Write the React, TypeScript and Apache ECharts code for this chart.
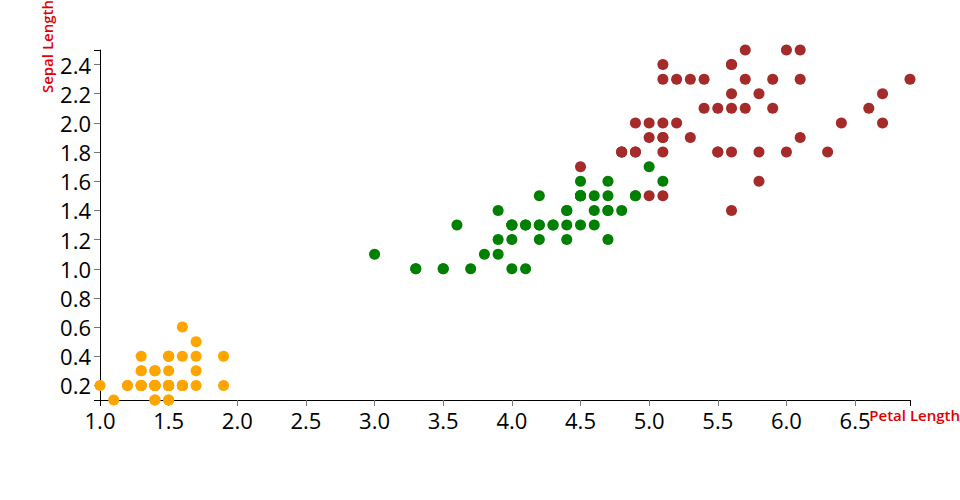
import React, { useEffect, useRef } from "react";
import * as echarts from "echarts";

const setosaLength = [1.4,1.4,1.3,1.5,1.4,1.7,1.4,1.5,1.4,1.5,1.5,1.6,1.4,1.1,1.2,1.5,1.3,1.4,1.7,1.5,1.7,1.5,1.0,1.7,1.9,1.6,1.6,1.5,1.4,1.6,1.6,1.5,1.5,1.4,1.5,1.2,1.3,1.4,1.3,1.5,1.3,1.3,1.3,1.6,1.9,1.4,1.6,1.4,1.5,1.4];
const setosaWidth = [0.2,0.2,0.2,0.2,0.2,0.4,0.3,0.2,0.2,0.1,0.2,0.2,0.1,0.1,0.2,0.4,0.4,0.3,0.3,0.3,0.2,0.4,0.2,0.5,0.2,0.2,0.4,0.2,0.2,0.2,0.2,0.4,0.1,0.2,0.2,0.2,0.2,0.1,0.2,0.2,0.3,0.3,0.2,0.6,0.4,0.3,0.2,0.2,0.2,0.2];
const versicolorLength = [4.7,4.5,4.9,4.0,4.6,4.5,4.7,3.3,4.6,3.9,3.5,4.2,4.0,4.7,3.6,4.4,4.5,4.1,4.5,3.9,4.8,4.0,4.9,4.7,4.3,4.4,4.8,5.0,4.5,3.5,3.8,3.7,3.9,5.1,4.5,4.5,4.7,4.4,4.1,4.0,4.4,4.6,4.0,3.3,4.2,4.2,4.2,4.3,3.0,4.1];
const versicolorWidth = [1.4,1.5,1.5,1.3,1.5,1.3,1.6,1.0,1.3,1.4,1.0,1.5,1.0,1.4,1.3,1.4,1.5,1.0,1.5,1.1,1.8,1.3,1.5,1.2,1.3,1.4,1.4,1.7,1.5,1.0,1.1,1.0,1.2,1.6,1.5,1.6,1.5,1.3,1.3,1.3,1.2,1.4,1.2,1.0,1.3,1.2,1.3,1.3,1.1,1.3];
const virginicaLength = [6.0,5.1,5.9,5.6,5.8,6.6,4.5,6.3,5.8,6.1,5.1,5.3,5.5,5.0,5.1,5.3,5.5,6.7,6.9,5.0,5.7,4.9,6.7,4.9,5.7,6.0,4.8,4.9,5.6,5.8,6.1,6.4,5.6,5.1,5.6,6.1,5.6,5.5,4.8,5.4,5.6,5.1,5.1,5.9,5.7,5.2,5.0,5.2,5.4,5.1];
const virginicaWidth = [2.5,1.9,2.1,1.8,2.2,2.1,1.7,1.8,1.8,2.5,2.0,1.9,2.1,2.0,2.4,2.3,1.8,2.2,2.3,1.5,2.3,2.0,2.0,1.8,2.1,1.8,1.8,1.8,2.1,1.6,1.9,2.0,2.2,1.5,1.4,2.3,2.4,1.8,1.8,2.1,2.4,2.3,1.9,2.3,2.5,2.3,1.9,2.0,2.3,1.8];

const xTicks = [1.0,1.5,2.0,2.5,3.0,3.5,4.0,4.5,5.0,5.5,6.0,6.5];
const yTicks = [0.2,0.4,0.6,0.8,1.0,1.2,1.4,1.6,1.8,2.0,2.2,2.4];
const xMin = 1.0, xMax = 6.9, yMin = 0.1, yMax = 2.5;

const pairs = (a: number[], b: number[]) => a.map((v, i) => [v, b[i]]);

const FONT = "Open Sans";

export default function App() {
  const ref = useRef<HTMLDivElement>(null);
  useEffect(() => {
    const chart = echarts.init(ref.current!, null, { renderer: "svg" });
    const labelStyle = { color: "#000", fontFamily: FONT, fontSize: 22 };
    chart.setOption({
      animation: false,
      grid: { left: 100, right: 50, top: 50, bottom: 100 },
      xAxis: [
        {
          type: "value", min: xMin, max: xMax, splitLine: { show: false },
          axisLine: { lineStyle: { color: "#000", width: 1 } },
          axisTick: { length: 6, customValues: xTicks, lineStyle: { color: "#777" } },
          axisLabel: { ...labelStyle, margin: 9, customValues: xTicks, formatter: (v: number) => v.toFixed(1) },
        },
        {
          type: "value", min: xMin, max: xMax, position: "bottom", splitLine: { show: false },
          axisLine: { show: false },
          axisTick: { length: 6, customValues: [xMin, xMax], lineStyle: { color: "#000" } },
          axisLabel: { show: false },
        },
      ],
      yAxis: [
        {
          type: "value", min: yMin, max: yMax, splitLine: { show: false },
          axisLine: { show: true, lineStyle: { color: "#000", width: 1 } },
          axisTick: { show: true, length: 6, customValues: yTicks, lineStyle: { color: "#777" } },
          axisLabel: { ...labelStyle, margin: 9, customValues: yTicks, formatter: (v: number) => v.toFixed(1) },
        },
        {
          type: "value", min: yMin, max: yMax, position: "left", splitLine: { show: false },
          axisLine: { show: false },
          axisTick: { show: true, length: 6, customValues: [yMin, yMax], lineStyle: { color: "#000" } },
          axisLabel: { show: false },
        },
      ],
      graphic: [
        {
          type: "text", x: 54, y: 0, rotation: Math.PI / 2,
          style: { text: "Sepal Length", fill: "#e00000", font: `600 15px "${FONT}"`, align: "right", verticalAlign: "bottom" },
        },
        {
          type: "text", x: 960, y: 415,
          style: { text: "Petal Length", fill: "#e00000", font: `600 15px "${FONT}"`, align: "right", verticalAlign: "middle" },
        },
      ],
      series: [
        { type: "scatter", symbolSize: 11, itemStyle: { color: "#FFA500", opacity: 1 }, data: pairs(setosaLength, setosaWidth) },
        { type: "scatter", symbolSize: 11, itemStyle: { color: "#008000", opacity: 1 }, data: pairs(versicolorLength, versicolorWidth) },
        { type: "scatter", symbolSize: 11, itemStyle: { color: "#A52A2A", opacity: 1 }, data: pairs(virginicaLength, virginicaWidth) },
      ],
    });
    return () => chart.dispose();
  }, []);
  return <div ref={ref} style={{ width: 960, height: 500, position: "absolute", left: 0, top: 0 }} />;
}
